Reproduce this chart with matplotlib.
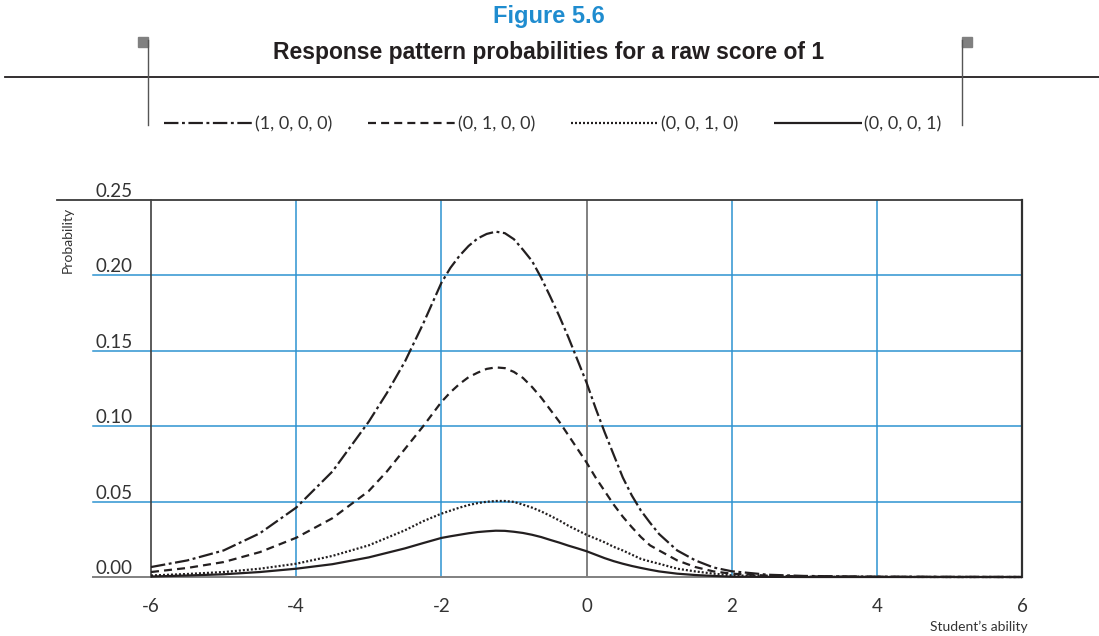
import matplotlib
matplotlib.use("Agg")
import matplotlib.pyplot as plt
from matplotlib.lines import Line2D
from matplotlib.patches import Rectangle

# ---------------- data ----------------
ability = [-6, -5.5, -5, -4.5, -4, -3.5, -3, -2.75, -2.5, -2.25, -2, -1.875, -1.75,
           -1.625, -1.5, -1.375, -1.25, -1.125, -1, -0.875, -0.75, -0.625, -0.5,
           -0.375, -0.25, -0.125, 0, 0.125, 0.25, 0.375, 0.5, 0.625, 0.75, 0.875,
           1, 1.25, 1.5, 1.75, 2, 2.5, 3, 4, 5, 6]

p_1000 = [0.0066, 0.011, 0.0176, 0.029, 0.046, 0.070, 0.103, 0.122, 0.143, 0.168,
          0.195, 0.205, 0.213, 0.2195, 0.2245, 0.2275, 0.229, 0.228, 0.224, 0.217,
          0.2095, 0.1985, 0.186, 0.173, 0.159, 0.144, 0.129, 0.112, 0.096, 0.081,
          0.066, 0.054, 0.044, 0.036, 0.0285, 0.0176, 0.011, 0.0063, 0.0038,
          0.0015, 0.0007, 0.0002, 0.0001, 0.0]
p_0100 = [0.0033, 0.006, 0.0099, 0.0165, 0.026, 0.039, 0.057, 0.070, 0.085, 0.100,
          0.116, 0.1225, 0.128, 0.1325, 0.1355, 0.138, 0.139, 0.1385, 0.136, 0.132,
          0.126, 0.119, 0.111, 0.103, 0.094, 0.085, 0.076, 0.066, 0.057, 0.048,
          0.040, 0.033, 0.0265, 0.021, 0.0176, 0.011, 0.0066, 0.0037, 0.0022,
          0.0009, 0.0004, 0.0001, 0.0, 0.0]
p_0010 = [0.001, 0.002, 0.0033, 0.0055, 0.0088, 0.014, 0.021, 0.026, 0.031, 0.037,
          0.042, 0.044, 0.046, 0.0477, 0.049, 0.0499, 0.0504, 0.0504, 0.0498, 0.048,
          0.046, 0.0435, 0.0406, 0.0375, 0.034, 0.031, 0.028, 0.0255, 0.023, 0.020,
          0.0176, 0.0148, 0.012, 0.0103, 0.0088, 0.0055, 0.0037, 0.0022, 0.0011,
          0.0005, 0.0002, 0.0001, 0.0, 0.0]
p_0001 = [0.0003, 0.001, 0.0018, 0.0033, 0.0055, 0.0085, 0.013, 0.016, 0.019, 0.0225,
          0.0259, 0.027, 0.028, 0.029, 0.0298, 0.0303, 0.0307, 0.0306, 0.030, 0.0292,
          0.028, 0.0265, 0.0246, 0.0228, 0.0208, 0.019, 0.0171, 0.0148, 0.0125,
          0.0105, 0.0088, 0.0073, 0.006, 0.0048, 0.0037, 0.0022, 0.0013, 0.0007,
          0.0002, 0.0001, 0.0, 0.0, 0.0, 0.0]

series_labels = ["(1, 0, 0, 0)", "(0, 1, 0, 0)", "(0, 0, 1, 0)", "(0, 0, 0, 1)"]
x_ticks = [-6, -4, -2, 0, 2, 4, 6]
x_tick_labels = ["-6", "-4", "-2", "0", "2", "4", "6"]
y_ticks = [0.00, 0.05, 0.10, 0.15, 0.20, 0.25]
y_tick_labels = ["0.00", "0.05", "0.10", "0.15", "0.20", "0.25"]

title_fig = "Figure 5.6"
title_main = "Response pattern probabilities for a raw score of 1"
x_label = "Student\u2019s ability"
y_label = "Probability"

# ---------------- styling ----------------
W, H = 1099, 636
BODY = ["Lato", "DejaVu Sans"]
SANS_B = ["Liberation Sans", "DejaVu Sans"]
INK = "#231f20"
BLUE = "#2e93d1"
TXT = "#333333"

fig = plt.figure(figsize=(W / 100, H / 100), dpi=100)
fig.patch.set_facecolor("white")

ax_l, ax_r, ax_t, ax_b = 151, 1022, 200, 577
ax = fig.add_axes([ax_l / W, 1 - ax_b / H, (ax_r - ax_l) / W, (ax_b - ax_t) / H])
ax.set_xlim(-6, 6)
ax.set_ylim(0, 0.25)
for s in ax.spines.values():
    s.set_visible(False)

px_per_x = (ax_r - ax_l) / 12.0
x_left_grid = -6 - (ax_l - 93) / px_per_x
x_left_top = -6 - (ax_l - 57) / px_per_x

# horizontal grid lines (extend left under tick labels)
for yv in y_ticks[1:-1]:
    ax.plot([x_left_grid, 6], [yv, yv], color=BLUE, lw=1.1, clip_on=False, zorder=1)
ax.plot([x_left_top, 6], [0.25, 0.25], color="#3a3a3a", lw=1.3, clip_on=False, zorder=2)
ax.plot([x_left_grid, 6], [0, 0], color="#808080", lw=1.4, clip_on=False, zorder=2)

# vertical grid lines
for xv in x_ticks:
    if xv == -6:
        ax.plot([xv, xv], [0, 0.25], color="#404040", lw=1.2, clip_on=False, zorder=2)
    elif xv == 6:
        ax.plot([xv, xv], [0, 0.25], color="#303030", lw=1.6, clip_on=False, zorder=2)
    elif xv == 0:
        ax.plot([xv, xv], [0, 0.25], color="#808080", lw=1.4, zorder=1)
    else:
        ax.plot([xv, xv], [0, 0.25], color=BLUE, lw=1.1, zorder=1)

lw = 1.6
l1, = ax.plot(ability, p_1000, color=INK, lw=lw, dashes=(6.5, 1.6, 1.3, 1.6),
              label=series_labels[0], zorder=3, clip_on=False)
l2, = ax.plot(ability, p_0100, color=INK, lw=lw, dashes=(3.6, 2.3),
              label=series_labels[1], zorder=3, clip_on=False)
l3, = ax.plot(ability, p_0010, color=INK, lw=lw, dashes=(0.9, 0.9),
              label=series_labels[2], zorder=3, clip_on=False)
l4, = ax.plot(ability, p_0001, color=INK, lw=lw, solid_capstyle="butt",
              label=series_labels[3], zorder=3, clip_on=False)

# ticks
ax.set_xticks(x_ticks)
ax.set_xticklabels(x_tick_labels, fontfamily=BODY, fontsize=13.5, color=TXT)
ax.tick_params(axis="x", length=0, pad=15)
ax.set_yticks(y_ticks)
ax.set_yticklabels(y_tick_labels, fontfamily=BODY, fontsize=13.5, color=TXT)
ax.tick_params(axis="y", length=0, pad=(ax_l - 95) * 0.72)
for lab in ax.get_yticklabels():
    lab.set_horizontalalignment("left")
    lab.set_verticalalignment("bottom")

fig.text(68 / W, 1 - 240 / H, y_label, rotation=90, ha="center", va="center",
         fontfamily=BODY, fontsize=10, color=TXT)
fig.text(1028 / W, 1 - 627 / H, x_label, ha="right", va="center",
         fontfamily=BODY, fontsize=10, color=TXT)

# titles
fig.text(549 / W, 1 - 17 / H, title_fig, ha="center", va="center",
         fontfamily=SANS_B, fontweight="bold", fontsize=17, color="#1f8ccf")
fig.text(549 / W, 1 - 53 / H, title_main, ha="center", va="center",
         fontfamily=SANS_B, fontweight="bold", fontsize=16.5, color="#231f20")

# decorative frame lines
fig.add_artist(Line2D([5 / W, 1], [1 - 77 / H] * 2, color="#231f20", lw=1.3))
for xl in (148, 962):
    fig.add_artist(Line2D([xl / W] * 2, [1 - 40 / H, 1 - 125 / H], color="#555555", lw=1.0))
fig.add_artist(Rectangle((138 / W, 1 - 47 / H), 10 / W, 10 / H, color="#808080",
                         transform=fig.transFigure))
fig.add_artist(Rectangle((962 / W, 1 - 47 / H), 10 / W, 10 / H, color="#808080",
                         transform=fig.transFigure))

# legend
leg = fig.legend(handles=[l1, l2, l3, l4], labels=series_labels, ncol=4,
                 loc="center", bbox_to_anchor=(553 / W, 1 - 124 / H), frameon=False,
                 prop={"family": BODY, "size": 13}, handlelength=4.9,
                 handletextpad=0.12, columnspacing=1.95, borderaxespad=0)
for t in leg.get_texts():
    t.set_color(TXT)

fig.savefig("out.png", dpi=100, facecolor="white")
